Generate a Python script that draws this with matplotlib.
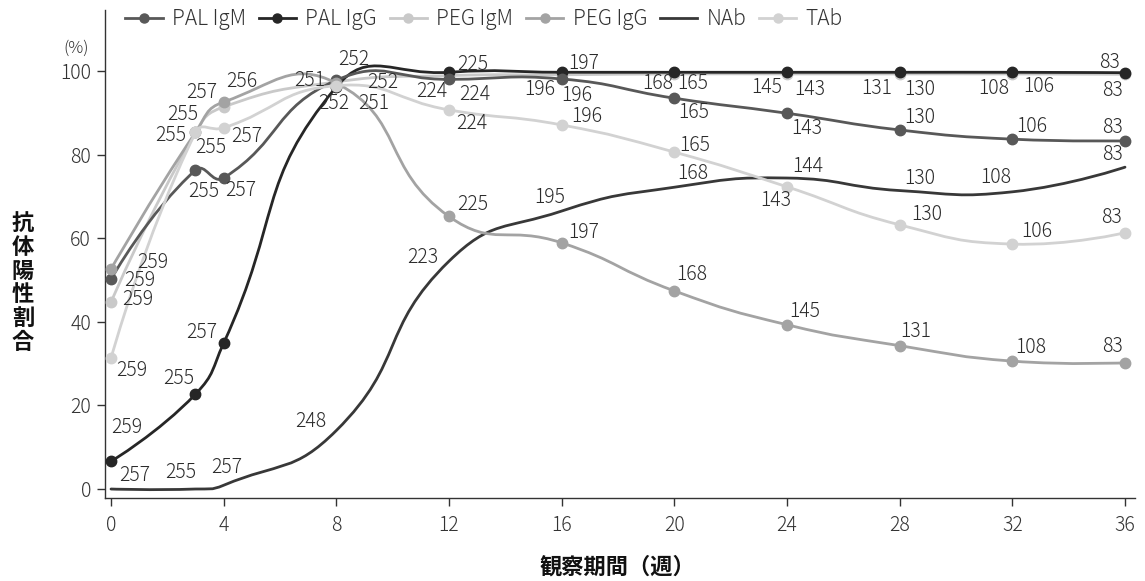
import numpy as np
import matplotlib
matplotlib.use("Agg")
import matplotlib.pyplot as plt
from matplotlib.path import Path
from matplotlib.patches import PathPatch
from matplotlib.lines import Line2D

plt.rcParams['font.family'] = ['Noto Sans CJK JP', 'DejaVu Sans']

# --- data ---
weeks = [0, 3, 4, 8, 12, 16, 20, 24, 28, 32, 36]
x_ticks = [0, 4, 8, 12, 16, 20, 24, 28, 32, 36]
y_ticks = [0, 20, 40, 60, 80, 100]

pal_igm = [50.2, 76.3, 74.4, 97.8, 98.0, 98.1, 93.5, 89.9, 85.9, 83.7, 83.3]
pal_igg = [6.6, 22.7, 34.9, 96.2, 99.7, 99.7, 99.7, 99.7, 99.7, 99.7, 99.6]
peg_igm = [44.7, 85.3, 91.4, 97.4, 98.9, 99.1, 99.3, 99.3, 99.3, 99.3, 99.2]
peg_igg = [52.6, 85.3, 92.6, 97.1, 65.2, 58.9, 47.4, 39.3, 34.3, 30.6, 30.2]
nab = [0.0, 0.0, 0.9, 14.0, 54.5, 66.5, 72.2, 74.4, 71.4, 71.1, 77.0]
tab = [31.3, 85.3, 86.4, 96.5, 90.7, 87.1, 80.6, 72.3, 63.2, 58.6, 61.3]

n_pal_igm = [259, 255, 257, 251, 224, 196, 165, 143, 130, 106, 83]
n_pal_igg = [259, 255, 257, 252, 225, 197, 168, 145, 131, 108, 83]
n_peg_igm = [259, 255, 256, 252, 224, 196, 165, 143, 130, 106, 83]
n_peg_igg = [259, 255, 257, 252, 225, 197, 168, 145, 131, 108, 83]
n_nab = [257, 255, 257, 248, 223, 195, 168, 144, 130, 108, 83]
n_tab = [259, 255, 257, 251, 224, 196, 165, 143, 130, 106, 83]

# label offsets in pixels (dx, dy up)
off_pal_igm = [(29, -1), (8, -21), (17, -12), (-27, 0), (26, -15), (15, -17),
               (19, -14), (20, -15), (20, 12), (19, 13), (-13, 13)]
off_pal_igg = [(16, 34), (-17, 16), (-22, 11), (17, 27), (24, 8), (22, 9),
               (-17, -11), (-20, -15), (-23, -16), (-19, -16), (-16, 10)]
off_peg_igm = [(27, 3), (-25, -3), (18, 25), (46, -1), (-17, -16), (-22, -15),
               (18, -10), (23, -16), (20, -16), (26, -13), (-13, -16)]
off_peg_igg = [(42, 7), (-13, 18), (-22, 9), (-3, -20), (24, 12), (22, 10),
               (17, 16), (18, 13), (16, 14), (18, 14), (-13, 16)]
off_nab = [(24, 14), (-15, 17), (3, 18), (-26, 9), (-26, 4), (-12, 14),
           (18, 14), (21, 12), (20, 12), (-17, 14), (-13, 13)]
off_tab = [(21, -12), (15, -15), (23, -9), (37, -18), (23, -14), (25, 8),
           (20, 7), (-11, -14), (27, 10), (24, 13), (-14, 15)]

series = [
    # name, values, n, offsets, color, marker, zorder
    ("PAL IgM", pal_igm, n_pal_igm, off_pal_igm, "#585858", True, 6),
    ("PAL IgG", pal_igg, n_pal_igg, off_pal_igg, "#262626", True, 5),
    ("PEG IgM", peg_igm, n_peg_igm, off_peg_igm, "#c9c9c9", True, 3),
    ("PEG IgG", peg_igg, n_peg_igg, off_peg_igg, "#a3a3a3", True, 7),
    ("NAb", nab, n_nab, off_nab, "#383838", False, 4),
    ("TAb", tab, n_tab, off_tab, "#d2d2d2", True, 8),
]

W, H = 1145, 581
fig = plt.figure(figsize=(W / 100, H / 100), dpi=100)
ax = fig.add_axes([105 / W, 1 - 498 / H, (1135 - 105) / W, (498 - 10) / H])
ax.set_xlim(-0.213, 36.355)
ax.set_ylim(-2.15, 114.6)


def smooth_path(xs, ys, smooth=0.5):
    # bezier control points in display space, like a smoothed chart line
    pts = ax.transData.transform(np.column_stack([xs, ys]))
    n = len(pts)
    before = pts.copy()
    after = pts.copy()
    for i in range(1, n - 1):
        prev, cur, nxt = pts[i - 1], pts[i], pts[i + 1]
        v = nxt - prev
        l0 = np.hypot(*(cur - prev))
        l1 = np.hypot(*(nxt - cur))
        r = l1 / (l0 + l1)
        after[i] = cur + v * smooth * r
        before[i] = cur - v * smooth * (1 - r)
    verts = [pts[0]]
    codes = [Path.MOVETO]
    for i in range(n - 1):
        verts += [after[i], before[i + 1], pts[i + 1]]
        codes += [Path.CURVE4] * 3
    verts = ax.transData.inverted().transform(np.array(verts))
    return Path(verts, codes)


handles = []
for name, vals, ns, offs, color, has_marker, z in series:
    patch = PathPatch(smooth_path(weeks, vals), facecolor="none", edgecolor=color,
                      lw=2.0, zorder=z, capstyle="round", joinstyle="round")
    ax.add_patch(patch)
    if has_marker:
        ax.plot(weeks, vals, "o", color=color, ms=7.5, zorder=z, mec=color)
    for xv, yv, nv, (dx, dy) in zip(weeks, vals, ns, offs):
        ax.annotate(str(nv), (xv, yv), xytext=(dx, dy), textcoords="offset pixels",
                    ha="center", va="center", fontsize=14, fontweight="light",
                    color="#2b2b2b", zorder=10)
    handles.append(Line2D([], [], color=color, lw=2.0,
                          marker="o" if has_marker else None, ms=6.5, label=name))

ax.spines["top"].set_visible(False)
ax.spines["right"].set_visible(False)
for s in ("left", "bottom"):
    ax.spines[s].set_color("#333333")
    ax.spines[s].set_linewidth(1.0)

ax.set_xticks(x_ticks)
ax.set_yticks(y_ticks)
ax.tick_params(axis="both", colors="#333333", labelsize=14, length=6, width=1.0)
ax.tick_params(axis="y", pad=4)
ax.tick_params(axis="x", pad=6)
for lab in ax.get_xticklabels() + ax.get_yticklabels():
    lab.set_fontweight("light")

fig.text(76 / W, 1 - 48 / H, "(%)", ha="center", va="center", fontsize=12,
         fontweight="light", color="#333333")
fig.text(23 / W, 1 - 283 / H, "\n".join("抗体陽性割合"), ha="center", va="center",
         fontsize=16, fontweight="bold", linespacing=1.05, color="#111111")
fig.text(617 / W, 1 - 567 / H, "観察期間（週）", ha="center", va="center",
         fontsize=16, fontweight="bold", color="#111111")

leg = ax.legend(handles=handles, loc="center left", bbox_to_anchor=(125 / W, 1 - 19 / H),
                bbox_transform=fig.transFigure, ncol=6, frameon=False,
                prop={"size": 15, "weight": "light"},
                handlelength=1.8, handletextpad=0.45, columnspacing=0.6,
                borderaxespad=0, borderpad=0)
for t in leg.get_texts():
    t.set_color("#333333")

fig.savefig("out.png", dpi=100)
